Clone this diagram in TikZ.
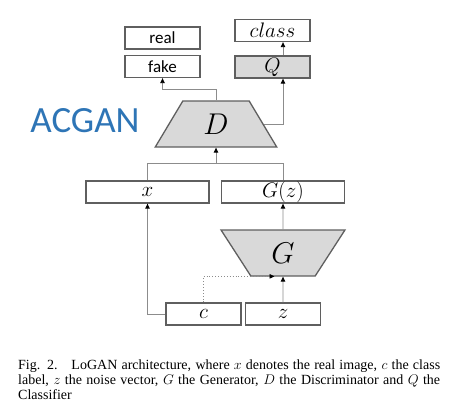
\documentclass[tikz,border=0pt]{standalone}
\usepackage{fix-cm}
\usepackage[no-math]{fontspec}
\setmainfont{Liberation Serif}
\newfontfamily\calib{Carlito}
\usetikzlibrary{shapes.geometric,arrows.meta,calc}
\definecolor{boxline}{RGB}{95,95,95}
\definecolor{connline}{RGB}{140,140,140}
\definecolor{boxfill}{RGB}{217,217,217}
\definecolor{acblue}{RGB}{46,117,182}
\begin{document}
\begin{tikzpicture}[x=1pt,y=-1pt,
  box/.style={draw=boxline,line width=1.3pt,minimum height=22pt,inner sep=0pt,font=\fontsize{21}{21}\selectfont},
  sbox/.style={box,minimum width=75pt},
  wbox/.style={box,minimum width=123pt},
  trap/.style={trapezium,trapezium stretches=true,draw=boxline,line width=1.3pt,fill=boxfill,inner sep=0pt,minimum height=46pt,font=\fontsize{30}{30}\selectfont},
  conn/.style={draw=connline,line width=0.9pt},
  arr/.style={conn,-{Triangle[length=5pt,width=4.5pt,black]}}]
\useasboundingbox (0,0) rectangle (450,408);
\node[sbox] (real) at (162.5,38) {\calib\fontsize{17}{17}\selectfont real};
\node[sbox] (fake) at (162.5,66.5) {\calib\fontsize{17}{17}\selectfont fake};
\node[sbox] (class) at (272.5,30.5) {$class$};
\node[sbox,fill=boxfill] (Q) at (272.5,67) {$Q$};
\node[trap,minimum width=122pt,trapezium angle=63] (D) at (216,124) {$D$};
\node[wbox] (x) at (147.5,192) {$x$};
\node[wbox] (Gz) at (283,192) {$G(z)$};
\node[trap,minimum width=124pt,trapezium angle=62.4,shape border rotate=180] (G) at (283,253) {$G$};
\node[sbox] (c) at (203.5,314) {$c$};
\node[sbox] (z) at (283,314) {$z$};
\node[text=acblue,font=\calib\fontsize{37}{37}\selectfont] (acgan) at (85,121) {ACGAN};
% connectors
\draw[arr] (D.north) -- ++(0,-11) -| (fake.south);
\draw[arr] (D.east) -| (Q.south -| Gz.north);
\draw[arr] (Q.north -| Gz.north) -- (class.south -| Gz.north);
\coordinate (m) at ($(D.south)+(0,16)$);
\draw[conn] (x.north) |- (m) -| (Gz.north);
\draw[arr] (m) -- (D.south);
\draw[arr] (G.north) -- (Gz.south);
\draw[arr] (z.north) -- (G.south);
\draw[arr] (c.west) -| (x.south);
\draw[arr,dotted] (c.north) -- ++(0,-26) -- ++(71,0);
% caption
\node[anchor=north west,inner sep=0pt,text width=422pt,align=justify,font=\fontsize{14}{15}\selectfont] (cap) at (18,360)
{Fig. 2.\hspace{0.5em} LoGAN architecture, where $x$ denotes the real image, $c$ the class\linebreak
label, $z$ the noise vector, $G$ the Generator, $D$ the Discriminator and $Q$ the\linebreak
Classifier};
\end{tikzpicture}
\end{document}
